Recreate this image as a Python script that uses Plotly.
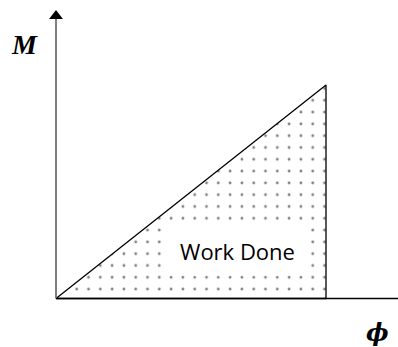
import plotly.graph_objects as go

# ---- data ----
phi = [0, 1, 1, 0]          # rotation (normalised)
moment = [0, 1, 0, 0]       # moment (normalised)
area_label = "Work Done"
x_label = "ϕ"
y_label = "M"

# ---- layout helpers (pixel -> data mapping) ----
W, H = 398, 347
X0_PX, X1_PX = 56, 326
Y0_PX, Y1_PX = 298.5, 85
sx = X1_PX - X0_PX
sy = Y0_PX - Y1_PX


def dx(px):
    return (px - X0_PX) / sx


def dy(py):
    return (Y0_PX - py) / sy


xr = [dx(0), dx(W)]
yr = [dy(H), dy(0)]

fig = go.Figure()

fig.add_trace(go.Scatter(
    x=phi, y=moment, mode="lines", fill="toself",
    line=dict(color="black", width=1.3),
    fillcolor="white",
    fillpattern=dict(shape=".", fgcolor="#000000", bgcolor="white",
                     size=11.8, solidity=0.045),
    hoverinfo="skip", showlegend=False,
))

# arrow head of the vertical axis
fig.add_trace(go.Scatter(
    x=[0], y=[dy(16)], mode="markers",
    marker=dict(symbol="triangle-up", size=12, color="black", line=dict(width=0)),
    hoverinfo="skip", showlegend=False,
))

fig.add_shape(type="line", xref="x", yref="y", x0=0, y0=0, x1=0, y1=dy(19),
              line=dict(color="#7f7f7f", width=2), layer="above")
fig.add_shape(type="line", xref="x", yref="y", x0=0, y0=0, x1=xr[1], y1=0,
              line=dict(color="black", width=1.5), layer="above")

fig.add_annotation(x=dx(237.5), y=dy(251), xref="x", yref="y", text=area_label,
                   showarrow=False, width=143, height=46, bgcolor="white",
                   font=dict(family="Open Sans", size=22, color="black"))
fig.add_annotation(x=dx(24.5), y=dy(44), xref="x", yref="y",
                   text="<b><i>" + y_label + "</i></b>", showarrow=False,
                   font=dict(family="Liberation Serif", size=28, color="black"))
fig.add_annotation(x=dx(377), y=dy(332), xref="x", yref="y",
                   text="<b><i>" + x_label + "</i></b>", showarrow=False,
                   font=dict(family="DejaVu Serif", size=24, color="black"))

fig.update_xaxes(range=xr, visible=False, fixedrange=True)
fig.update_yaxes(range=yr, visible=False, fixedrange=True)
fig.update_layout(width=W, height=H, margin=dict(l=0, r=0, t=0, b=0),
                  plot_bgcolor="white", paper_bgcolor="white")

fig.write_html("out.html", config={"displayModeBar": False},
               post_script="document.body.style.margin='0';document.body.style.overflow='hidden';")
